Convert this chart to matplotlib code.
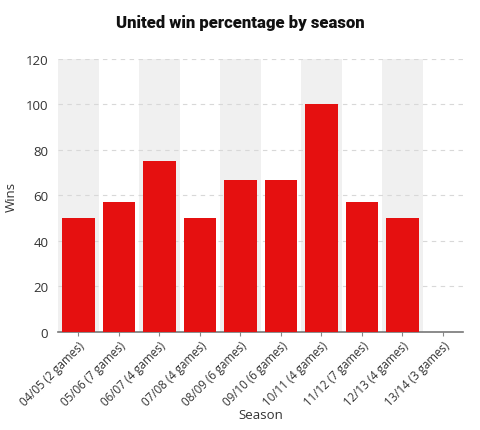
import matplotlib
matplotlib.use("Agg")
import matplotlib.pyplot as plt
import numpy as np

seasons = ["04/05 (2 games)", "05/06 (7 games)", "06/07 (4 games)", "07/08 (4 games)",
           "08/09 (6 games)", "09/10 (6 games)", "10/11 (4 games)", "11/12 (7 games)",
           "12/13 (4 games)", "13/14 (3 games)"]
win_pct = [50, 57.14, 75, 50, 66.67, 66.67, 100, 57.14, 50, 0]
y_ticks = [0, 20, 40, 60, 80, 100, 120]

plt.rcParams['font.family'] = ['Open Sans', 'DejaVu Sans']

fig = plt.figure(figsize=(4.8, 4.31), dpi=100)
ax = fig.add_axes([0.121, 0.2274, 0.844, 0.6336])

x = np.arange(len(seasons))
for i in x:
    if i % 2 == 0:
        ax.axvspan(i - 0.5, i + 0.5, color="#f0f0f0", zorder=0, lw=0)

ax.bar(x, win_pct, width=0.8, color="#e51010", zorder=3)

ax.set_xlim(-0.5, len(seasons) - 0.5)
ax.set_ylim(0, 120)
ax.set_yticks(y_ticks)
ax.yaxis.grid(True, linestyle=(0, (4, 4)), color="#d8d8d8", lw=0.8, zorder=1)
ax.set_axisbelow(True)

ax.set_xticks(x)
ax.set_xticklabels(seasons, rotation=45, ha="right", rotation_mode="anchor",
                   fontsize=8.3, color="#333333")
ax.tick_params(axis="x", length=3, color="#888888", pad=2)
ax.tick_params(axis="y", length=0, labelsize=9.5, labelcolor="#333333", pad=7)

for s in ["top", "right", "left"]:
    ax.spines[s].set_visible(False)
ax.spines["bottom"].set_color("#777777")
ax.spines["bottom"].set_linewidth(1.2)

ax.set_ylabel("Wins", fontsize=9.5, color="#333333")
ax.yaxis.set_label_coords(-0.099, 0.5)
ax.set_xlabel("Season", fontsize=9.5, color="#333333")
ax.xaxis.set_label_coords(0.5, -0.28)

fig.text(0.5, 0.947, "United win percentage by season", ha="center", va="center",
         fontsize=12, fontweight="heavy", color="#111111",
         family=["Roboto", "DejaVu Sans"])

fig.savefig("out.png", dpi=100)
